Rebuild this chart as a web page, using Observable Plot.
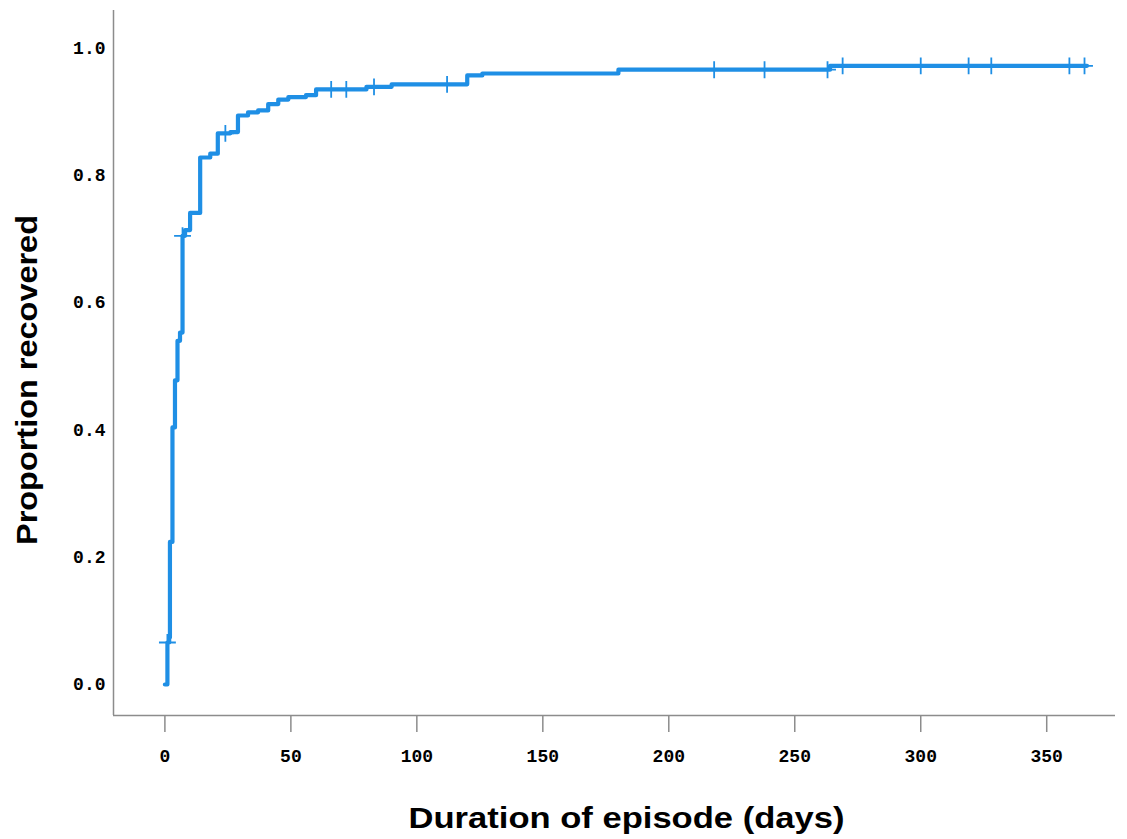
<!DOCTYPE html>
<html>
<head>
<meta charset="utf-8">
<script src="https://cdn.jsdelivr.net/npm/d3@7"></script>
<script src="https://cdn.jsdelivr.net/npm/@observablehq/plot@0.6"></script>
<style>
  html, body { margin: 0; padding: 0; background: #fff; }
</style>
</head>
<body>
<div id="chart"></div>
<script>
// ---- data ----
const eventDays = [0, 1, 1.7, 2, 3, 4, 5, 6, 7, 8, 10, 14, 18, 21, 26, 29, 33, 37, 41, 45, 49, 56, 60, 80, 90, 120, 126, 180, 264, 366];
const proportionRecovered = [0, 0.066, 0.074, 0.224, 0.404, 0.478, 0.540, 0.553, 0.705, 0.714, 0.741, 0.828, 0.834, 0.866, 0.868, 0.894, 0.899, 0.902, 0.912, 0.919, 0.923, 0.926, 0.935, 0.939, 0.943, 0.957, 0.960, 0.966, 0.972, 0.972];
const censoredDays = [1, 7, 24, 66, 72, 83, 112, 218, 238, 263, 269, 300, 319, 328, 359, 365];
const xTicks = [0, 50, 100, 150, 200, 250, 300, 350];
const yTicks = [0, 0.2, 0.4, 0.6, 0.8, 1.0];
const xTitle = "Duration of episode (days)";
const yTitle = "Proportion recovered";

// ---- derived tables ----
const curve = eventDays.map((d, i) => ({day: d, p: proportionRecovered[i]}));
const stepAt = (t) => {
  let v = 0;
  for (const c of curve) { if (c.day <= t) v = c.p; }
  return v;
};
const censored = censoredDays.map(d => ({day: d, p: stepAt(d)}));

const xDomain = [-20.4, 377.3];
const yDomain = [-0.0487, 1.059];
const blue = "#1f8fe5";
const axisGray = "#8c8c8c";
const tickFont = "'Liberation Mono', 'DejaVu Sans Mono', monospace";
const titleFont = "'Liberation Sans', Arial, sans-serif";

const chart = Plot.plot({
  width: 1127,
  height: 839,
  marginLeft: 113,
  marginRight: 12,
  marginTop: 10,
  marginBottom: 124,
  x: {domain: xDomain},
  y: {domain: yDomain},
  style: {background: "#fff", color: "#000", overflow: "visible"},
  marks: [
    Plot.axisY({ticks: yTicks, tickSize: 0, tickPadding: 8, tickFormat: d3.format(".1f"), label: null,
      fontFamily: tickFont, fontSize: 18, fontWeight: "bold"}),
    Plot.axisX({ticks: xTicks, tickSize: 17, tickPadding: 17, tickFormat: d3.format("d"), label: null,
      stroke: axisGray, strokeWidth: 1.5, fill: "#000",
      fontFamily: tickFont, fontSize: 18, fontWeight: "bold"}),
    Plot.ruleX([xDomain[0]], {stroke: axisGray, strokeWidth: 1.5}),
    Plot.ruleY([yDomain[0]], {stroke: axisGray, strokeWidth: 1.5}),
    Plot.line(curve, {x: "day", y: "p", curve: "step-after", stroke: blue, strokeWidth: 4.2}),
    Plot.dot(censored, {x: "day", y: "p", symbol: "plus", r: 5.5, stroke: blue, strokeWidth: 1.8, fill: "none"}),
    Plot.text([xTitle], {frameAnchor: "bottom", dx: -206, dy: 112, textAnchor: "start", text: d => d,
      fontFamily: titleFont, fontSize: 30, fontWeight: "bold", fill: "#000"}),
    Plot.text([yTitle], {frameAnchor: "left", dx: -86, dy: 182, rotate: -90, textAnchor: "start", text: d => d,
      fontFamily: titleFont, fontSize: 30, fontWeight: "bold", fill: "#000"})
  ]
});

// stretch titles to the reference's lengths
chart.querySelectorAll("text").forEach(t => {
  if (t.textContent === xTitle) { t.setAttribute("textLength", 436); t.setAttribute("lengthAdjust", "spacingAndGlyphs"); }
  if (t.textContent === yTitle) { t.setAttribute("textLength", 330); t.setAttribute("lengthAdjust", "spacingAndGlyphs"); }
});

document.getElementById("chart").appendChild(chart);
</script>
</body>
</html>
